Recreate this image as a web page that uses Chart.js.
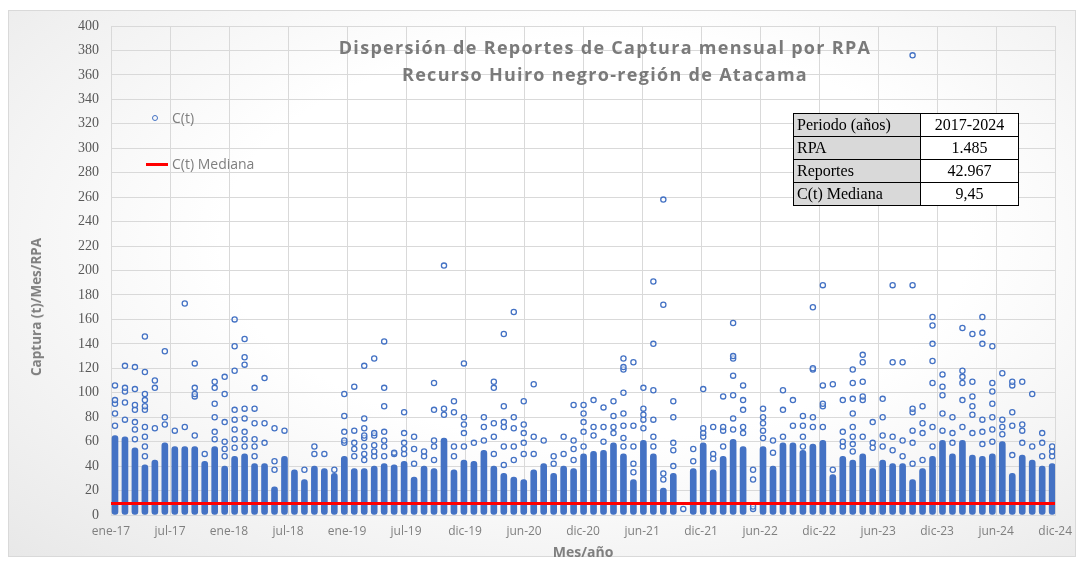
<!DOCTYPE html>
<html>
<head>
<meta charset="utf-8">
<script src="https://cdn.jsdelivr.net/npm/chart.js@4.4.1/dist/chart.umd.min.js"></script>
<style>
  html, body { margin: 0; padding: 0; background: #fff; }
  #wrap { position: relative; width: 1081px; height: 563px; overflow: hidden; }
  #frame { position: absolute; left: 8px; top: 10px; width: 1066px; height: 545px;
    border: 1px solid #d9d9d9;
    background: radial-gradient(ellipse at 55% 42%, #ffffff 45%, #e8e8e8 100%); }
  #grafico { position: absolute; left: 0; top: 0; }
  .titulo { position: absolute; left: 255px; width: 700px; text-align: center;
    font: bold 18px "Open Sans", sans-serif; color: #7a7a7a; letter-spacing: 1.3px; }
  .leyenda { position: absolute; font: 14px "Open Sans", sans-serif; color: #7f7f7f; }
  #ejeY { position: absolute; left: 36px; top: 307px; transform: translate(-50%, -50%) rotate(-90deg);
    font: bold 13.5px "Open Sans", sans-serif; color: #7f7f7f; white-space: nowrap; }
  #tabla { position: absolute; left: 793px; top: 113px; border-collapse: collapse;
    font: 16px "Liberation Serif", "Times New Roman", serif; color: #000; }
  #tabla td { border: 1px solid #000; height: 22px; padding: 0 3px; line-height: 22px; }
  #tabla td.k { background: #d9d9d9; width: 120px; text-align: left; }
  #tabla td.v { background: #fff; width: 91px; text-align: center; }
</style>
</head>
<body>
<div id="wrap">
  <div id="frame"></div>
  <canvas id="grafico" width="1081" height="563"></canvas>
  <div class="titulo" style="top:35px">Dispersión de Reportes de Captura mensual por RPA</div>
  <div class="titulo" style="top:62px">Recurso Huiro negro-región de Atacama</div>
  <div style="position:absolute;left:152px;top:115px;width:4px;height:4px;border:1.3px solid #4472C4;border-radius:50%"></div>
  <div class="leyenda" style="left:172px;top:108px">C(t)</div>
  <div style="position:absolute;left:146px;top:163px;width:22px;height:3px;background:#ff0000"></div>
  <div class="leyenda" style="left:172px;top:154px">C(t) Mediana</div>
  <div id="ejeY">Captura (t)/Mes/RPA</div>
  <table id="tabla"></table>
</div>
<script>
// etiquetas del eje X (cada ~6 meses)
const etiquetasX = ['ene-17', 'jul-17', 'ene-18', 'jul-18', 'ene-19', 'jul-19', 'dic-19', 'jun-20',
  'dic-20', 'jun-21', 'dic-21', 'jun-22', 'dic-22', 'jun-23', 'dic-23', 'jun-24', 'dic-24'];

// parte densa de cada mes (0 hasta este valor), en t
const capturaDensa = [
  65, 64, 55, 41, 45, 59, 56, 56, 56, 44, 56, 40, 48, 50, 42, 42, 23, 48, 37, 29, 40, 38, 34, 48,
  38, 38, 40, 42, 41, 44, 31, 40, 38, 63, 37, 45, 44, 53, 40, 34, 31, 29, 37, 42, 34, 40, 38, 50,
  52, 53, 59, 50, 29, 61, 50, 22, 34, null, 38, 59, 37, 48, 62, 56, null, 56, 40, 59, 59, 53, 58, 61,
  33, 48, 45, 50, 38, 45, 42, 42, 29, 38, 48, 61, 50, 61, 49, 48, 50, 60, 34, 49, 45, 40, 42
];

// reportes dispersos de cada mes, en t
const capturaDispersa = [
  [73, 83, 91, 94, 106], [78, 92, 101, 104, 122], [62, 70, 76, 86, 90, 103, 121],
  [48, 56, 64, 72, 86, 89, 94, 99, 117, 146], [71, 104, 110], [74, 80, 134], [69], [72, 173],
  [65, 97, 99, 104, 124], [50], [62, 68, 80, 91, 104, 109], [48, 54, 60, 76, 99, 113],
  [55, 62, 70, 78, 86, 118, 138, 160], [56, 62, 68, 79, 87, 123, 129, 144], [48, 56, 62, 75, 87, 104],
  [59, 75, 112], [37, 44, 71], [69], [], [37], [50, 56], [50], [37], [59, 61, 68, 81, 99],
  [48, 54, 59, 69, 105], [45, 50, 56, 63, 65, 71, 79, 122], [48, 52, 57, 65, 67, 128],
  [48, 56, 61, 68, 89, 104, 142], [50, 51], [50, 54, 59, 67, 84], [42, 54, 64], [48, 52],
  [45, 56, 61, 86, 108], [82, 87, 204], [48, 56, 84, 93], [56, 67, 74, 80, 124], [59], [61, 72, 80],
  [50, 64, 75, 104, 109], [41, 56, 72, 76, 89, 148], [45, 56, 71, 80, 166], [50, 59, 67, 74, 93],
  [50, 64, 107], [61], [42, 48], [50, 64], [45, 54, 61, 90], [56, 68, 76, 83, 90],
  [65, 72, 94], [60, 72, 88], [67, 72, 81, 93], [56, 63, 73, 83, 100, 119, 121, 128],
  [35, 42, 56, 73, 125], [71, 78, 82, 87, 104], [56, 64, 78, 102, 140, 191], [29, 34, 172, 258],
  [40, 53, 59, 80, 93], [5], [44, 54], [64, 67, 71, 103], [46, 50, 72], [56, 69, 72, 97],
  [70, 79, 98, 114, 128, 130, 157], [67, 72, 86, 94, 106], [5, 7, 29, 37], [63, 69, 75, 80, 87],
  [51, 61], [64, 86, 102], [73, 94], [56, 64, 73, 81], [72, 80, 119, 120, 170], [72, 89, 91, 106, 188],
  [37, 107], [56, 60, 68, 94], [52, 58, 64, 72, 83, 95, 108, 119], [64, 94, 97, 109, 125, 131],
  [55, 59, 76], [56, 65, 80, 95], [53, 64, 125, 188], [48, 61, 125], [42, 59, 69, 84, 87, 188, 376],
  [45, 67, 75, 89], [56, 72, 108, 126, 140, 155, 162], [69, 83, 98, 105, 115], [59, 67, 80],
  [72, 94, 108, 113, 118, 153], [67, 82, 89, 97, 109, 148], [58, 68, 78, 140, 149, 162],
  [60, 70, 80, 91, 101, 108, 138], [66, 72, 78, 116], [49, 73, 84, 106, 109], [59, 69, 74, 109],
  [56, 99], [48, 59, 67], [48, 52, 56]
];

const medianaCaptura = 9.45;

const resumenClaves = ['Periodo (años)', 'RPA', 'Reportes', 'C(t) Mediana'];
const resumenValores = ['2017-2024', '1.485', '42.967', '9,45'];

const xMin = -0.4;
const xMax = 94.3;
const azul = '#4472C4';

// tabla resumen
const tabla = document.getElementById('tabla');
resumenClaves.forEach((k, i) => {
  const fila = document.createElement('tr');
  const c1 = document.createElement('td');
  c1.className = 'k';
  c1.textContent = k;
  const c2 = document.createElement('td');
  c2.className = 'v';
  c2.textContent = resumenValores[i];
  fila.appendChild(c1);
  fila.appendChild(c2);
  tabla.appendChild(fila);
});

const columnas = [];
capturaDensa.forEach((v, i) => {
  if (v != null) columnas.push({ x: i, y: [0, v] });
});
const puntos = [];
capturaDispersa.forEach((lista, i) => {
  lista.forEach(v => puntos.push({ x: i, y: v }));
});

const ctx = document.getElementById('grafico').getContext('2d');
new Chart(ctx, {
  type: 'scatter',
  data: {
    datasets: [{
      type: 'line',
      label: 'C(t) Mediana',
      data: [{ x: xMin, y: medianaCaptura }, { x: xMax, y: medianaCaptura }],
      borderColor: '#ff0000',
      borderWidth: 3,
      pointRadius: 0,
      order: 0
    }, {
      type: 'scatter',
      label: 'C(t)',
      data: puntos,
      pointRadius: 2.6,
      borderWidth: 1.3,
      borderColor: azul,
      backgroundColor: 'rgba(255,255,255,0.5)',
      order: 1
    }, {
      type: 'bar',
      label: 'C(t) densa',
      data: columnas,
      backgroundColor: azul,
      barThickness: 6,
      borderRadius: 3,
      borderSkipped: false,
      order: 2
    }]
  },
  options: {
    responsive: false,
    animation: false,
    layout: { padding: { top: 26, right: 20, left: 0, bottom: 0 } },
    plugins: {
      legend: { display: false },
      tooltip: { enabled: false }
    },
    scales: {
      x: {
        type: 'linear',
        min: xMin,
        max: xMax,
        offset: false,
        afterFit: s => { s.height = 48; },
        afterBuildTicks: s => {
          const paso = (xMax - xMin) / (etiquetasX.length - 1);
          s.ticks = etiquetasX.map((_, k) => ({ value: xMin + k * paso }));
        },
        ticks: {
          autoSkip: false,
          maxRotation: 0,
          padding: 9,
          color: '#7f7f7f',
          font: { family: 'Open Sans', size: 12 },
          callback: (v, i) => etiquetasX[i]
        },
        grid: { color: '#d9d9d9', drawTicks: false, offset: false },
        border: { color: '#d9d9d9' },
        title: {
          display: true,
          text: 'Mes/año',
          color: '#7f7f7f',
          font: { family: 'Open Sans', size: 14, weight: 'bold' },
          padding: { top: 0, bottom: 2 }
        }
      },
      y: {
        min: 0,
        max: 400,
        afterFit: s => { s.width = 111; },
        ticks: {
          stepSize: 20,
          padding: 12,
          color: '#595959',
          font: { family: 'Liberation Serif', size: 14 }
        },
        grid: { color: '#d9d9d9', drawTicks: false },
        border: { color: '#d9d9d9' }
      }
    }
  }
});
</script>
</body>
</html>
